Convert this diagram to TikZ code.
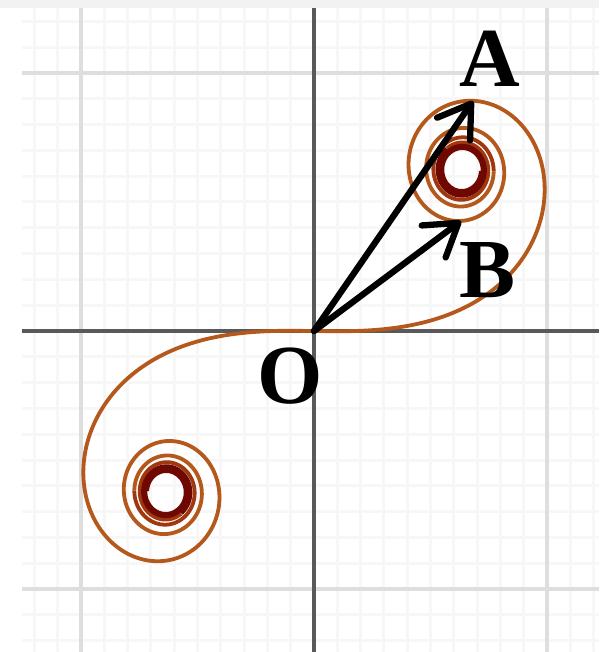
\documentclass[tikz,border=0pt]{standalone}
\usepackage{fontspec}
\setmainfont{Liberation Serif}[BoldFont={Liberation Serif Bold}]
\usetikzlibrary{arrows.meta}
\definecolor{spiralbrown}{RGB}{180,88,28}
\definecolor{spiraldark}{RGB}{110,8,0}
\definecolor{spiralmid}{RGB}{160,55,15}
\begin{document}
\begin{tikzpicture}[x=1pt,y=-1pt,
  declare function={
    ff(\t)=(1+0.926*\t)/(2+1.792*\t+3.104*\t*\t);
    gg(\t)=1/(2+4.142*\t+3.492*\t*\t+6.670*\t*\t*\t);
    FC(\t)=0.5+ff(\t)*sin(90*\t*\t)-gg(\t)*cos(90*\t*\t);
    FS(\t)=0.5-ff(\t)*cos(90*\t*\t)-gg(\t)*sin(90*\t*\t);
  },
  minorgrid/.style={draw=black!3,line width=3pt},
  majorgrid/.style={draw=black!13,line width=3.5pt},
  axisline/.style={draw=black!65,line width=3.5pt},
  spiral/.style={draw=spiralbrown,line width=3.8pt},
  vec/.style={draw=black,line width=6.3pt,line cap=round,
    -{Straight Barb[length=31pt,width=40pt,line cap=round,line join=round]}},
  lbl/.style={font=\fontsize{84}{84}\selectfont\bfseries,inner sep=0pt}
]
\useasboundingbox (0,0) rectangle (599,652);
\fill[white] (0,0) rectangle (599,652);
\fill[black!5] (0,0) rectangle (599,8);
\begin{scope}
\clip (22,8) rectangle (599,652);
\foreach \k in {-12,...,12} {
  \draw[minorgrid] ({314+23.3*\k},8) -- ({314+23.3*\k},652);
  \draw[minorgrid] (22,{331+25.8*\k}) -- (599,{331+25.8*\k});
}
\foreach \xx in {81,547} \draw[majorgrid] (\xx,8) -- (\xx,652);
\foreach \yy in {73,589} \draw[majorgrid] (22,\yy) -- (599,\yy);
\draw[axisline] (314,8) -- (314,652);
\draw[axisline] (22,331) -- (599,331);
\end{scope}
% Cornu spiral
\draw[spiral] plot[domain=0:3.0,samples=500,variable=\t,smooth]
  ({314+296*FC(\t)},{331-322*FS(\t)});
\draw[spiral] plot[domain=0:3.0,samples=500,variable=\t,smooth]
  ({314-296*FC(\t)},{331+322*FS(\t)});
\draw[spiral,draw=spiralmid] plot[domain=3.0:3.8,samples=300,variable=\t,smooth]
  ({314+296*FC(\t)},{331-322*FS(\t)});
\draw[spiral,draw=spiralmid] plot[domain=3.0:3.8,samples=300,variable=\t,smooth]
  ({314-296*FC(\t)},{331+322*FS(\t)});
\draw[spiral,draw=spiraldark] plot[domain=3.8:5.0,samples=500,variable=\t,smooth]
  ({314+296*FC(\t)},{331-322*FS(\t)});
\draw[spiral,draw=spiraldark] plot[domain=3.8:5.0,samples=500,variable=\t,smooth]
  ({314-296*FC(\t)},{331+322*FS(\t)});
% vectors
\coordinate (O) at (314,331);
\coordinate (A) at (473,101);
\coordinate (B) at (461,221);
\draw[vec] (O) -- (A);
\draw[vec] (O) -- (B);
\node[lbl] (LA) at (490,59) {A};
\node[lbl] (LB) at (488,270) {B};
\node[lbl] (LO) at (290,376) {O};
\end{tikzpicture}
\end{document}
